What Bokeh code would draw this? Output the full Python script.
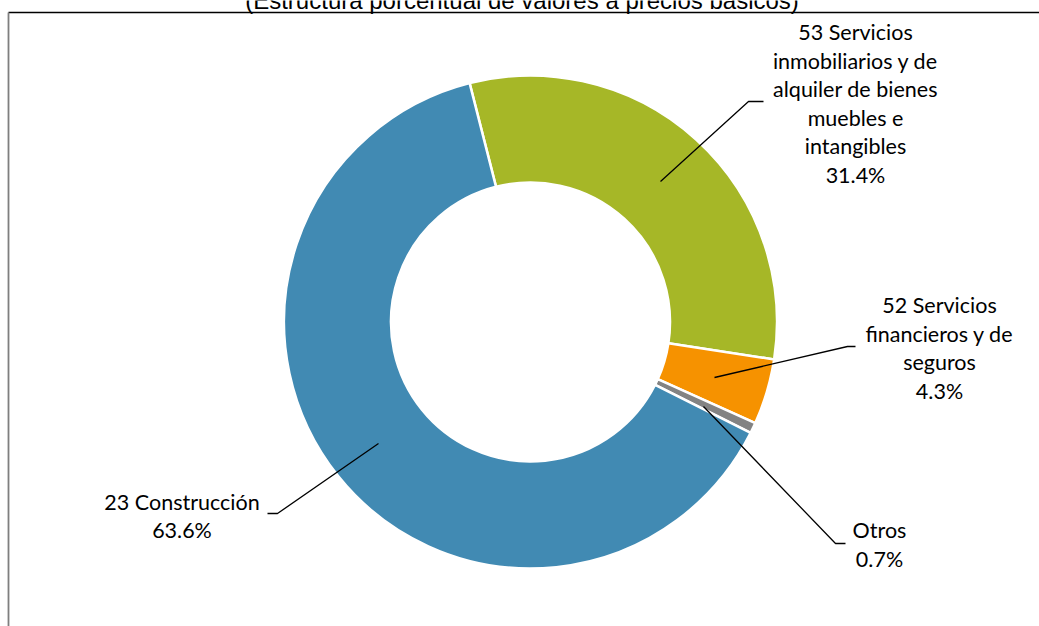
import math
from bokeh.plotting import figure
from bokeh.models import Range1d, ColumnDataSource
from bokeh.core.properties import value
from bokeh.embed import file_html
from bokeh.resources import INLINE

# ---- data ----
title_text = "(Estructura porcentual de valores a precios básicos)"
categories = [
    "53 Servicios\ninmobiliarios y de\nalquiler de bienes\nmuebles e\nintangibles",
    "52 Servicios\nfinancieros y de\nseguros",
    "Otros",
    "23 Construcción",
]
values = [31.4, 4.3, 0.7, 63.6]
colors = ["#A6B727", "#F69200", "#838383", "#418AB3"]

# ---- layout constants (screen pixels) ----
W, H = 1039, 626
CX, CY = 530, 321.5
R_OUT, R_IN = 246.5, 139.5
FIRST_ANGLE = -14.3  # degrees clockwise from 12 o'clock

label_pos = [(855, 103), (939, 347.5), (879, 544), (181.5, 515.5)]
leaders = [
    [(660, 181), (748, 101), (763, 101)],
    [(714, 377), (847, 346), (855, 346)],
    [(703, 406), (835, 543), (845, 543)],
    [(378, 443), (277, 513), (267, 513)],
]


def Y(sy):
    return H - sy


p = figure(width=W, height=H, x_range=Range1d(0, W), y_range=Range1d(0, H),
           output_backend="svg", toolbar_location=None, min_border=0,
           margin=(0, 0, 0, 0))
p.axis.visible = False
p.grid.visible = False
p.outline_line_color = None
p.background_fill_color = "white"
p.border_fill_color = "white"

# wedges
total = sum(values)
starts, ends = [], []
acc = FIRST_ANGLE
for v in values:
    a0 = acc
    a1 = acc + v / total * 360.0
    starts.append(math.radians(90 - a0))
    ends.append(math.radians(90 - a1))
    acc = a1

src = ColumnDataSource(dict(x=[CX] * len(values), y=[Y(CY)] * len(values),
                            start=starts, end=ends, color=colors))
p.annular_wedge(x="x", y="y", inner_radius=R_IN, outer_radius=R_OUT,
                start_angle="start", end_angle="end", direction="clock",
                fill_color="color", line_color="white", line_width=2.5,
                source=src)

# border lines
p.line([8, W], [Y(12), Y(12)], line_color="black", line_width=1.5)
p.line([8, 8], [Y(12), Y(H)], line_color="#7f7f7f", line_width=1.8)

# title (cut at top)
p.text(x=[521.5], y=[Y(0)], text=[title_text], text_font=value("Liberation Sans"),
       text_font_size="24px", text_align="center", text_baseline="alphabetic",
       text_color="black")

# leader lines
for pts in leaders:
    p.line([q[0] for q in pts], [Y(q[1]) for q in pts], line_color="black",
           line_width=1.3)

# labels
texts = [f"{c}\n{v:.1f}%" for c, v in zip(categories, values)]
p.text(x=[q[0] for q in label_pos], y=[Y(q[1]) for q in label_pos], text=texts,
       text_font=value("Lato"), text_font_size="21.5px", text_align="center",
       text_baseline="middle", text_line_height=1.1, text_color="black")

open("out.html", "w").write(file_html(p, INLINE))
